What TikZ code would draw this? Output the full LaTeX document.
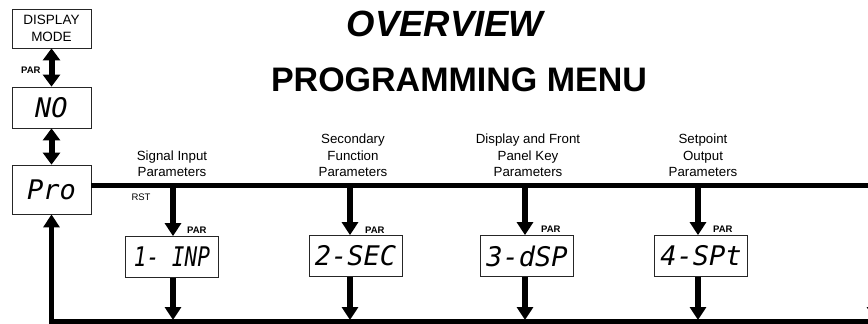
\documentclass[tikz,border=0pt]{standalone}
\usepackage{fontspec}
\usepackage{graphicx}
\setmainfont{Liberation Sans}
\newfontfamily\segfont{DejaVu Sans Mono}
\usetikzlibrary{arrows.meta}
\begin{document}
\begin{tikzpicture}[x=1pt,y=-1pt,
  flow/.style={line width=5pt,line join=miter},
  arr/.style={line width=5.5pt,-{Triangle[width=16pt,length=13pt]}},
  dbl/.style={line width=6pt,{Triangle[width=17pt,length=12pt]}-{Triangle[width=17pt,length=12pt]}},
  plain/.style={draw=black!85,line width=0.8pt,inner sep=0pt,minimum width=79pt},
  lcd/.style={plain,font=\segfont\itshape\fontsize{27}{27}\selectfont},
  dbox/.style={lcd,minimum width=93pt,minimum height=41pt},
  cat/.style={align=center,font=\fontsize{13.3}{16.5}\selectfont,anchor=south,inner sep=0pt},
  parlab/.style={font=\bfseries\fontsize{9.5}{11}\selectfont,anchor=west,inner sep=0pt}
]
\useasboundingbox (0,0) rectangle (868,324);
\clip (0,0) rectangle (868,324);

% titles
\node[inner sep=0pt,font=\bfseries\itshape\fontsize{36.5}{36.5}\selectfont] (ov) at (445,24) {OVERVIEW};
\node[inner sep=0pt,font=\bfseries\fontsize{34}{34}\selectfont] (pm) at (459,80) {PROGRAMMING MENU};

% left column
\node[plain,minimum height=39pt,align=center,font=\fontsize{13.5}{17}\selectfont] (dm) at (51.5,28.5) {DISPLAY\\MODE};
\node[lcd,minimum height=41pt] (no) at (51.5,107.5) {NO};
\node[lcd,minimum height=49pt] (pro) at (51.5,189.5) {Pro};
\draw[dbl] (dm.south) -- (no.north);
\draw[dbl] (no.south) -- (pro.north);
\node[parlab] (p0) at (21,70) {PAR};

% parameter boxes
\node[dbox] (b1) at (172,257) {\scalebox{0.78}[1]{1- INP}};
\node[dbox] (b2) at (355.5,256) {2-SEC};
\node[dbox] (b3) at (527,256) {3-dSP};
\node[dbox] (b4) at (701,256) {4-SPt};

% arrow columns
\coordinate (a1) at (173,0);
\coordinate (a2) at (350,0);
\coordinate (a3) at (525,0);
\coordinate (a4) at (698,0);
\coordinate (topR) at (875,185);
\coordinate (botR) at (875,321.5);
\coordinate (botT) at (0,320);
\coordinate (a5s) at (875,290);

% top bus
\draw[flow] (pro.east |- topR) -- (topR);
% bottom bus with return to Pro
\draw[flow,-{Triangle[width=16pt,length=13pt]}] (botR) -- (pro.south |- botR) -- (pro.south);

% branches
\foreach \a/\b in {a1/b1,a2/b2,a3/b3,a4/b4}{
  \draw[arr] (\a |- topR) -- (\a |- \b.north);
  \draw[arr] (\a |- \b.south) -- (\a |- botT);
}
\draw[arr] (a5s) -- (a5s |- botT);

% labels
\node[parlab] (p1) at (187,230) {PAR};
\node[parlab] (p2) at (365,230) {PAR};
\node[parlab] (p3) at (541,229) {PAR};
\node[parlab] (p4) at (713,229) {PAR};
\node[inner sep=0pt,font=\fontsize{9.5}{11}\selectfont] (rst) at (141,197) {RST};

\node[cat] (c1) at (172,177) {Signal Input\\Parameters};
\node[cat] (c2) at (353,177) {Secondary\\Function\\Parameters};
\node[cat] (c3) at (528,177) {Display and Front\\Panel Key\\Parameters};
\node[cat] (c4) at (703,177) {Setpoint\\Output\\Parameters};
\end{tikzpicture}
\end{document}
